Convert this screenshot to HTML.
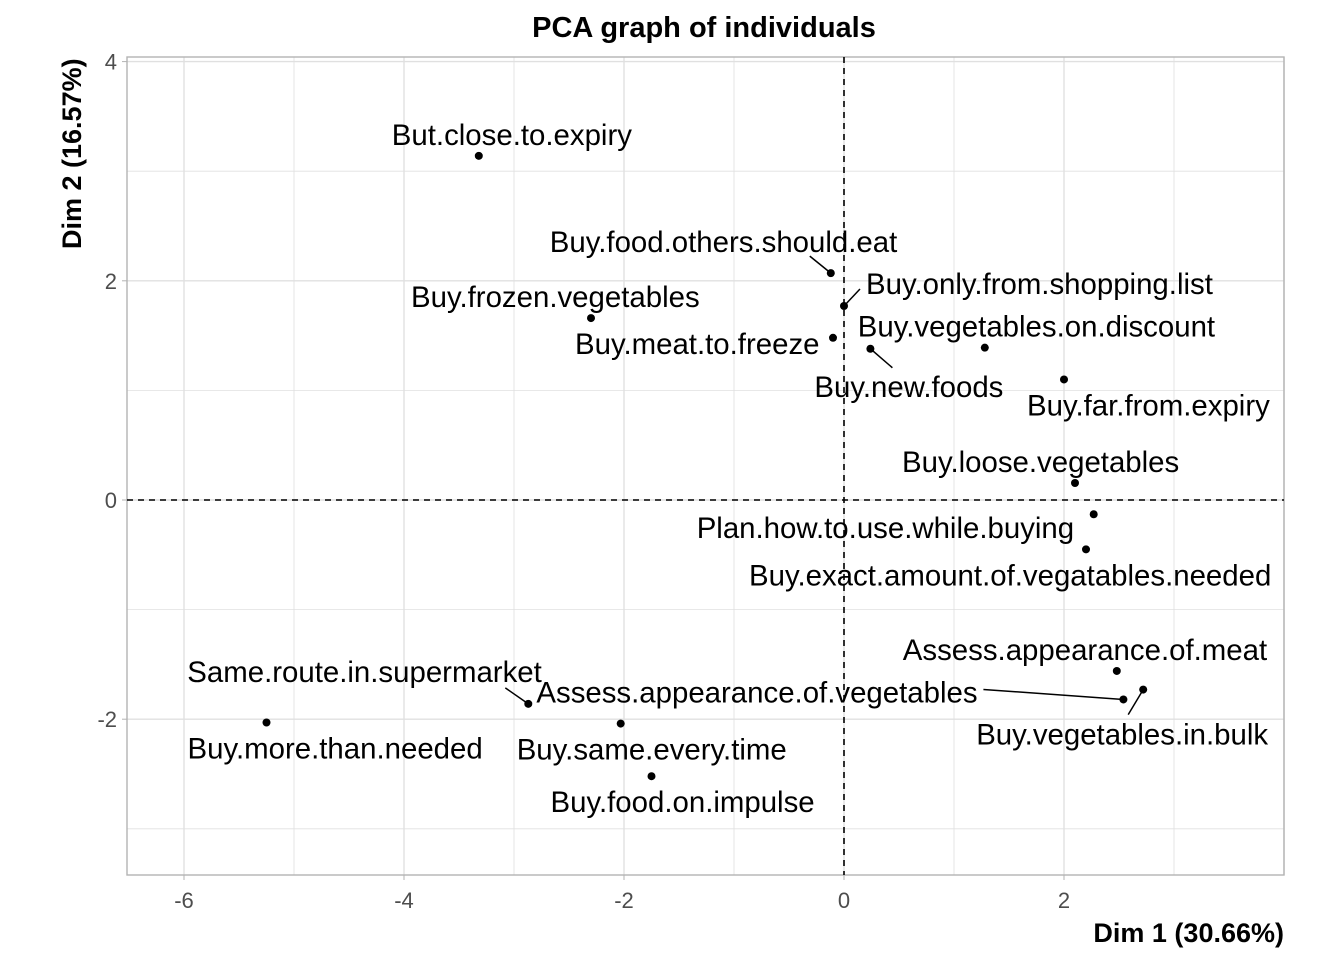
<!DOCTYPE html>
<html><head><meta charset="utf-8"><style>body{margin:0;background:#fff}svg text{font-family:"Liberation Sans",Arial,sans-serif}</style></head>
<body>
<svg id="chart" width="1344" height="960" xmlns="http://www.w3.org/2000/svg">
<text x="704" y="37" text-anchor="middle" font-size="29" font-weight="bold">PCA graph of individuals</text>
<text x="1284" y="942" text-anchor="end" font-size="27" font-weight="bold">Dim 1 (30.66%)</text>
<text transform="translate(81,249) rotate(-90)" font-size="27" font-weight="bold">Dim 2 (16.57%)</text>
<g id="grid"></g><g id="axes"></g><g id="marks"></g>
</svg>
<script>
const names=["But.close.to.expiry","Buy.food.others.should.eat","Buy.only.from.shopping.list","Buy.frozen.vegetables","Buy.meat.to.freeze","Buy.new.foods","Buy.vegetables.on.discount","Buy.far.from.expiry","Buy.loose.vegetables","Plan.how.to.use.while.buying","Buy.exact.amount.of.vegatables.needed","Assess.appearance.of.meat","Assess.appearance.of.vegetables","Buy.vegetables.in.bulk","Same.route.in.supermarket","Buy.more.than.needed","Buy.same.every.time","Buy.food.on.impulse"];
const dim1=[-3.32,-0.12,0.0,-2.30,-0.10,0.24,1.28,2.0,2.10,2.27,2.20,2.48,2.54,2.72,-2.87,-5.25,-2.03,-1.75];
const dim2=[3.14,2.07,1.77,1.66,1.48,1.38,1.39,1.10,0.155,-0.13,-0.45,-1.56,-1.82,-1.73,-1.86,-2.03,-2.04,-2.52];
const xTicks=[-6,-4,-2,0,2];
const yTicks=[-2,0,2,4];
// label layout offsets (px) and leader segments
const lab=[[-87,-11],[-281,-21],[22,-12],[-180,-11],[-258,16],[-56,48],[-127,-11],[-37,36],[-173,-11],[-397,24],[-337,36],[-214,-11],[-587,3],[-167,55],[-341,-22],[-79,36],[-104,36],[-101,36]];
const seg={1:[-21,-17],2:[16,-17],5:[22,19],12:[-140,-10],13:[-15,25],14:[-23,-16]};
const L=127,R=1284,T=57,B=875;
const sx=v=>844+v*110, sy=v=>500-v*109.6;
const NS="http://www.w3.org/2000/svg";
function mk(p,t,a){const e=document.createElementNS(NS,t);for(const k in a)e.setAttribute(k,a[k]);p.appendChild(e);return e;}
const g=document.getElementById('grid'),ax=document.getElementById('axes'),m=document.getElementById('marks');
for(let v=-7;v<=4;v++){const x=sx(v);if(x<L||x>R)continue;const l=mk(g,'line',{x1:x,x2:x,y1:T,y2:B,stroke:'#e0e0e0','stroke-width':v%2==0?1.4:0.8});

}
for(let v=-4;v<=4;v++){const y=sy(v);if(y<T||y>B)continue;const l=mk(g,'line',{x1:L,x2:R,y1:y,y2:y,stroke:'#e0e0e0','stroke-width':v%2==0?1.4:0.8});

}
const fr=mk(ax,'rect',{x:L,y:T,width:R-L,height:B-T,fill:'none',stroke:'#b3b3b3','stroke-width':1.4});


xTicks.forEach(v=>{mk(ax,'line',{x1:sx(v),x2:sx(v),y1:B,y2:B+5,stroke:'#b3b3b3'});const t=mk(ax,'text',{x:sx(v),y:B+33,'text-anchor':'middle','font-size':22,fill:'#4d4d4d'});t.textContent=v;

});
yTicks.forEach(v=>{mk(ax,'line',{x1:L-5,x2:L,y1:sy(v),y2:sy(v),stroke:'#b3b3b3'});const t=mk(ax,'text',{x:L-10,y:sy(v)+8,'text-anchor':'end','font-size':22,fill:'#4d4d4d'});t.textContent=v;

});
const h=mk(ax,'line',{x1:L,x2:R,y1:sy(0),y2:sy(0),stroke:'#000','stroke-width':1.6,'stroke-dasharray':'6,5'});


const vl=mk(ax,'line',{x1:sx(0),x2:sx(0),y1:T,y2:B,stroke:'#000','stroke-width':1.6,'stroke-dasharray':'6,5'});


names.forEach((n,i)=>{const x=sx(dim1[i]),y=sy(dim2[i]);
const c=mk(m,'circle',{cx:x,cy:y,r:4,fill:'#000'});


if(seg[i]){const s=mk(m,'line',{x1:x,y1:y,x2:x+seg[i][0],y2:y+seg[i][1],stroke:'#000','stroke-width':1.5});

}
const t=mk(m,'text',{x:x+lab[i][0],y:y+lab[i][1],'font-size':29.4,fill:'#000'});t.textContent=n;

});
</script>
</body></html>
